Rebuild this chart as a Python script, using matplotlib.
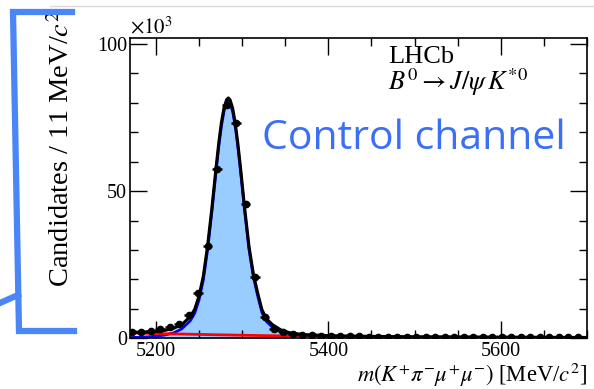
import matplotlib
matplotlib.use("Agg")
import matplotlib.pyplot as plt
import numpy as np
from matplotlib.lines import Line2D

plt.rcParams['font.family'] = ['Liberation Serif', 'DejaVu Serif']
plt.rcParams['mathtext.fontset'] = 'stix'

# histogram: bin centres (MeV/c^2), bin width 11 MeV, counts in units of 10^3
bin_lo = 5172
bin_w = 11
counts = [2.0, 2.2, 2.5, 3.0, 3.7, 5.0, 7.8, 15.3, 31.3, 57.5, 79.3, 73.0,
          45.6, 20.7, 7.1, 3.2, 2.0, 1.5, 1.2, 1.0, 0.9, 0.8, 0.75, 0.7,
          0.65, 0.6, 0.6, 0.55, 0.55, 0.5, 0.5, 0.5, 0.45, 0.45, 0.45, 0.4,
          0.4, 0.4, 0.4, 0.35, 0.35, 0.35, 0.35, 0.3, 0.3, 0.3, 0.3, 0.3]

# fit components (units of 10^3)
fit_x = [5170, 5180, 5190, 5200, 5210, 5220, 5230, 5240, 5245, 5250, 5255,
         5260, 5265, 5270, 5273, 5276, 5279, 5282, 5284, 5286, 5289, 5292,
         5295, 5298, 5303, 5308, 5313, 5318, 5323, 5328, 5335, 5345, 5355,
         5370, 5400, 5450, 5500, 5600, 5700]
sig_y = [0.25, 0.35, 0.5, 0.7, 1.1, 1.8, 3.2, 6.0, 8.5, 13.0, 19.8,
         30.2, 43.1, 57.3, 65.3, 72.1, 77.1, 79.9, 80.5, 79.9, 77.1, 72.1,
         65.3, 57.3, 43.1, 30.2, 21.0, 14.5, 8.8, 5.8, 3.8, 2.0, 1.1,
         0.55, 0.25, 0.1, 0.05, 0.02, 0.01]
bkg_y = [1.8, 1.74, 1.68, 1.62, 1.56, 1.5, 1.44, 1.38, 1.35, 1.32, 1.29,
         1.26, 1.23, 1.2, 1.18, 1.17, 1.15, 1.14, 1.13, 1.12, 1.1, 1.09,
         1.07, 1.06, 1.03, 1.0, 0.98, 0.95, 0.93, 0.9, 0.87, 0.83, 0.79,
         0.74, 0.65, 0.55, 0.46, 0.36, 0.28]

centres = bin_lo + bin_w * np.arange(len(counts))
counts = np.array(counts)
tot_y = np.array(sig_y) + np.array(bkg_y)

fig = plt.figure(figsize=(5.94, 3.89), dpi=100)
W, H = 594, 389
ax = fig.add_axes([130 / W, 1 - 338.3 / H, 457 / W, 300.3 / H])

ax.fill_between(fit_x, 0, sig_y, color='#99ccff', lw=0, zorder=1)
ax.plot(fit_x, sig_y, color='#0000ff', lw=2.0, zorder=2)
ax.plot(fit_x, bkg_y, color='#ff0000', lw=2.0, zorder=3)
ax.plot(fit_x, tot_y, color='black', lw=2.2, zorder=4)
ax.errorbar(centres, counts, xerr=bin_w / 2, yerr=np.sqrt(counts * 1000) / 1000,
            fmt='o', color='black', ms=4.5, elinewidth=1.8, capsize=0, zorder=5)

ax.set_xlim(5170, 5700)
ax.set_ylim(0, 102)
ax.set_xticks([5200, 5400, 5600])
ax.set_xticks(np.arange(5200, 5701, 50), minor=True)
ax.set_yticks([0, 50, 100])
ax.set_yticks(np.arange(0, 101, 10), minor=True)
ax.tick_params(which='both', direction='in', top=True, right=True, labelsize=14.5, width=1)
ax.tick_params(which='major', length=12, pad=2)
ax.tick_params(axis='x', which='major', pad=3)
ax.tick_params(which='minor', length=6)
for s in ax.spines.values():
    s.set_linewidth(1.2)

ax.set_xlabel(r'$m(K^{+}\pi^{-}\mu^{+}\mu^{-})$ [MeV/$c^2$]', fontsize=16.3, ha='right', va='center')
ax.xaxis.set_label_coords(1.0, -0.123)
ax.set_ylabel(r'Candidates / 11 MeV/$c^2$', fontsize=20.5, va='center')
ax.yaxis.set_label_coords(-0.149, 0.63)

ax.text(0.0, 1.0, r'$\times10^{3}$', transform=ax.transAxes, fontsize=15, ha='left', va='bottom')
ax.text(0.565, 0.937, 'LHCb', transform=ax.transAxes, fontsize=19, ha='left', va='center')
ax.text(0.565, 0.853, r'$B^0 \rightarrow J/\psi\, K^{*0}$', transform=ax.transAxes, fontsize=19,
        ha='left', va='center')

# slide overlay decorations
def px(x, y):
    return x / W, 1 - y / H

fig.add_artist(Line2D([50 / W, 1], [1 - 6 / H, 1 - 6 / H], color='#d9d9d9', lw=1))
bx, by = zip(px(72, 12), px(13, 12), px(19, 331), px(74, 331))
fig.add_artist(Line2D(bx, by, color='#4a86f7', lw=4.5, solid_joinstyle='miter'))
dx, dy = zip(px(0, 303), px(18, 295))
fig.add_artist(Line2D(dx, dy, color='#4a86f7', lw=4.5))
fig.text(262 / W, 1 - 139 / H, 'Control channel', fontsize=29.5, color='#3b6ff5',
         family='Open Sans', ha='left', va='center')

fig.savefig('out.png', dpi=100)
